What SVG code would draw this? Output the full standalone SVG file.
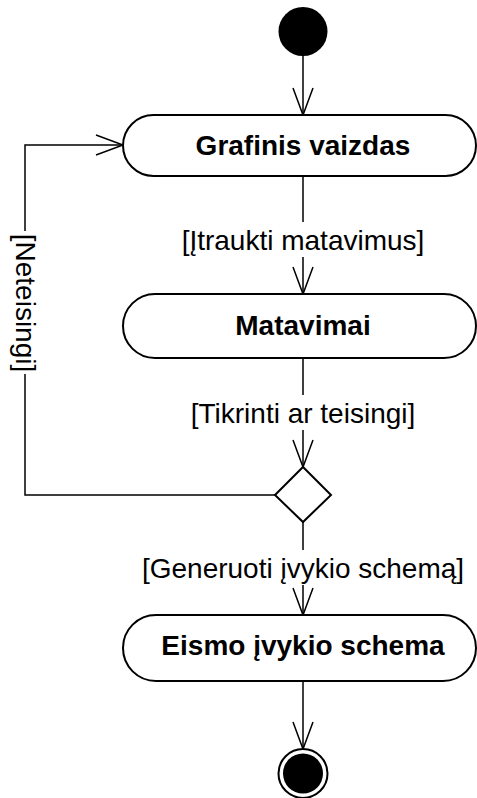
<svg xmlns="http://www.w3.org/2000/svg" width="477" height="798" viewBox="0 0 477 798">
  <defs>
    <style>
      .action { fill: #fff; stroke: #000; stroke-width: 2; }
      .flow { fill: none; stroke: #000; stroke-width: 1.5; marker-end: url(#open-arrow); }
      .name { font-family: "Liberation Sans", Arial, sans-serif; font-size: 28px; font-weight: bold; text-anchor: middle; fill: #000; }
      .guard { font-family: "Liberation Sans", Arial, sans-serif; font-size: 28px; text-anchor: middle; fill: #000; }
    </style>
    <marker id="open-arrow" markerUnits="userSpaceOnUse" viewBox="-29 -12 31 24" markerWidth="31" markerHeight="24" refX="0" refY="0" orient="auto" overflow="visible">
      <path d="M-27,-10 L0,0 L-27,10" fill="none" stroke="#000" stroke-width="1.5"/>
    </marker>
  </defs>

  <rect width="477" height="798" fill="#fff"/>

  <!-- control flows -->
  <g id="connectors">
    <path class="flow" d="M303,56 V115"/>
    <path class="flow" d="M303,176 V222 M303,257 V294"/>
    <path class="flow" d="M303,358 V395 M303,430 V467"/>
    <path class="flow" d="M303,522 V550 M303,585 V615"/>
    <path class="flow" d="M303,681 V749"/>
    <path class="flow" d="M275,495 H25 V374 M25,231 V145 H123"/>
    <text class="guard" x="303" y="250">[Įtraukti matavimus]</text>
    <text class="guard" x="303" y="423">[Tikrinti ar teisingi]</text>
    <text class="guard" x="303" y="578">[Generuoti įvykio schemą]</text>
    <text class="guard" transform="translate(16,303) rotate(90)">[Neteisingi]</text>
  </g>

  <g id="start">
    <circle cx="303" cy="31.5" r="24.5" fill="#000"/>
  </g>

  <g id="grafinis-vaizdas">
    <rect class="action" x="123" y="115" width="353" height="61" rx="30.5"/>
    <text class="name" x="303" y="155">Grafinis vaizdas</text>
  </g>

  <g id="matavimai">
    <rect class="action" x="123" y="294" width="353" height="64" rx="32"/>
    <text class="name" x="303" y="335">Matavimai</text>
  </g>

  <g id="decision">
    <polygon points="303,467 331,495 303,522 275,495" fill="#fff" stroke="#000" stroke-width="2"/>
  </g>

  <g id="eismo-ivykio-schema">
    <rect class="action" x="123" y="615" width="353" height="66" rx="33"/>
    <text class="name" x="303" y="655">Eismo įvykio schema</text>
  </g>

  <g id="end">
    <circle cx="303" cy="773.5" r="24.5" fill="#fff" stroke="#000" stroke-width="2"/>
    <circle cx="303" cy="773.5" r="20" fill="#000"/>
  </g>
</svg>
